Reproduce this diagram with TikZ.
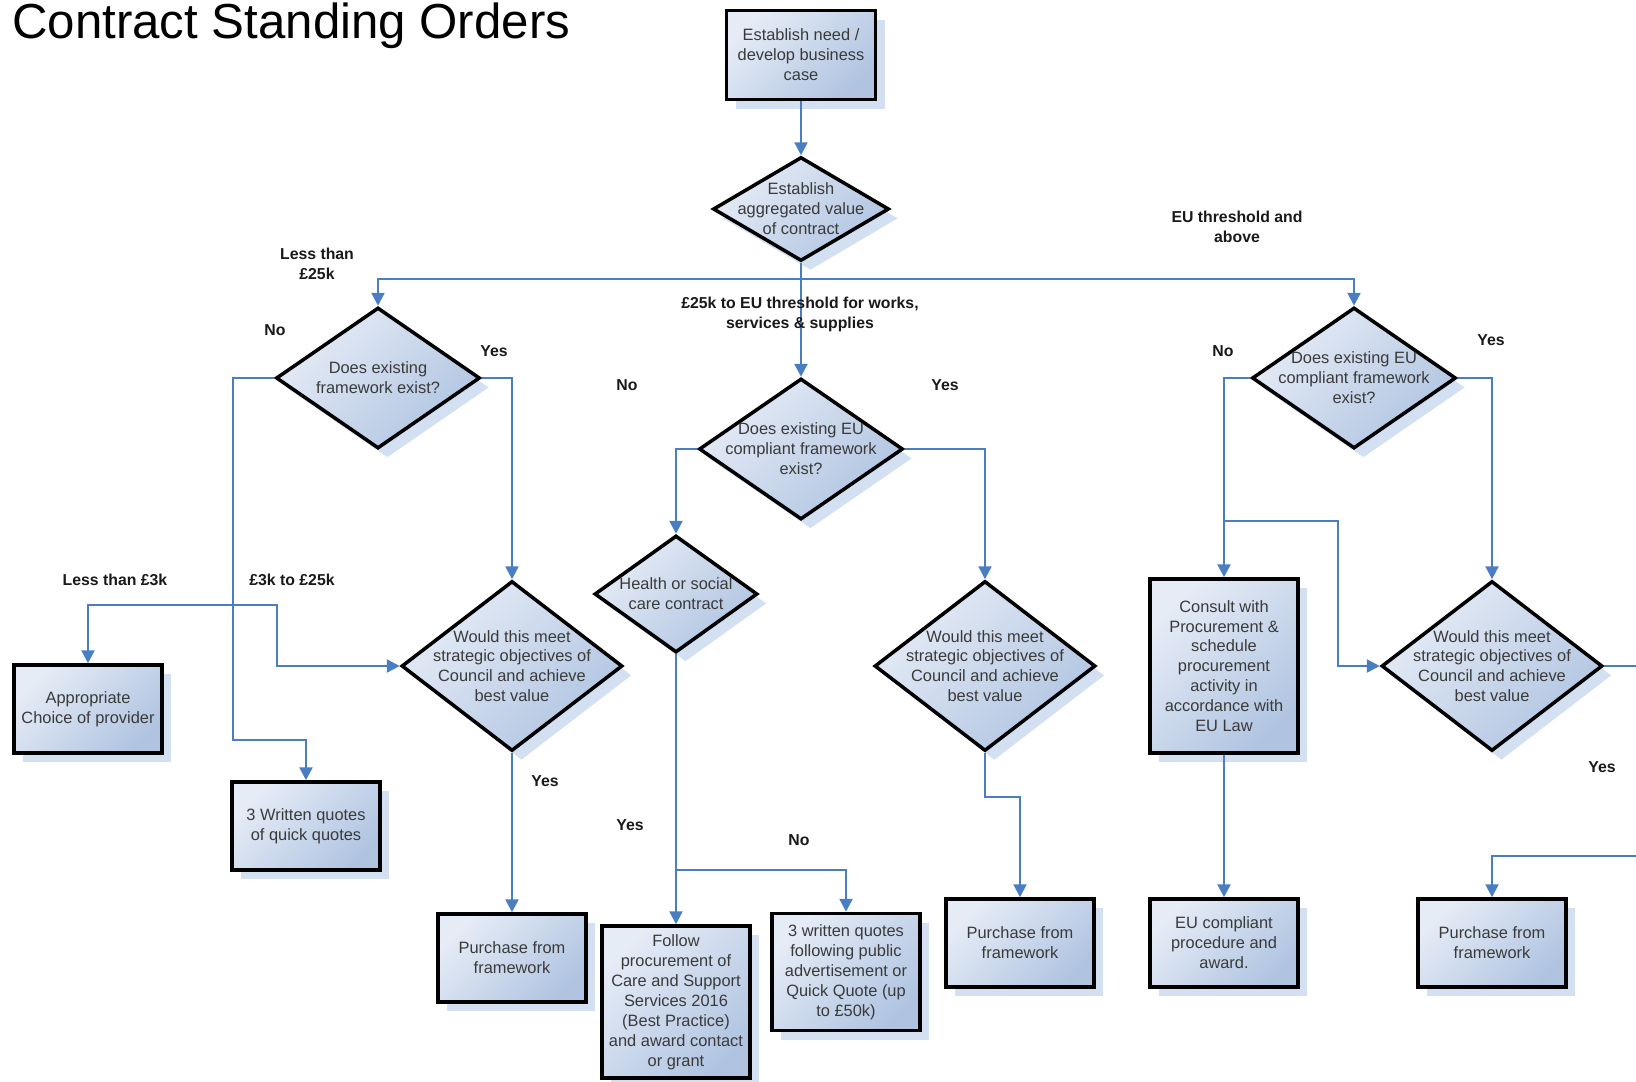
\documentclass[tikz,border=0pt]{standalone}
\usepackage{fontspec}
\setmainfont{Liberation Sans}
\usepackage{xcolor}
\usepackage{tikz}
\usetikzlibrary{shapes.geometric}
\usetikzlibrary{arrows.meta}
\usetikzlibrary{shadows}

\definecolor{flowblue}{HTML}{4A7EC2}
\definecolor{boxlight}{HTML}{E6ECF6}
\definecolor{boxdark}{HTML}{B0C4E1}
\definecolor{shadowblue}{HTML}{D3E0F1}
\definecolor{boxtext}{HTML}{3A3A3A}

\newlength{\pxu}
\setlength{\pxu}{0.03cm}

\begin{document}
\begin{tikzpicture}[x=0.03cm, y=-0.03cm, >={Triangle[length=11pt, width=11pt]},
  shapebase/.style={draw=black, line width=3pt, top color=boxlight, bottom color=boxdark,
    shading angle=45, drop shadow={shadow xshift=8pt, shadow yshift=-8pt, fill=shadowblue, opacity=1},
    font=\fontsize{14}{17}\selectfont, text=boxtext, align=center, inner sep=0pt},
  process/.style={shapebase, rectangle, minimum width=148\pxu, minimum height=88\pxu},
  decision/.style={shapebase, diamond, minimum width=204\pxu, minimum height=141\pxu},
  valuecheck/.style={decision, minimum width=221\pxu, minimum height=170\pxu},
  dtext/.style={font=\fontsize{14}{17}\selectfont, text=boxtext, align=center, inner sep=0pt},
  tag/.style={font=\bfseries\fontsize{13.5}{17}\selectfont, text=black!90, align=center, inner sep=0pt},
  conn/.style={->, draw=flowblue, line width=2pt}]

  % ===== Page frame =====
  \useasboundingbox (0,0) rectangle (1636,1081);
  \clip (0,0) rectangle (1636,1081);

  % Title
  \node[anchor=base west, font=\fontsize{42}{50}\selectfont, inner sep=0pt] (title) at (12,38) {Contract Standing Orders};

  % ===== Top of the flow =====
  \node[process, minimum width=149\pxu, minimum height=89\pxu] (need) at (801,55) {Establish need /\\develop business\\case};
  \node[decision, minimum width=176\pxu, minimum height=104\pxu,
    label={[dtext]center:Establish\\aggregated value\\of contract}] (agg) at (801,209) {};

  % Framework checks
  \node[decision, label={[dtext]center:Does existing\\framework exist?}] (fw1) at (378,378) {};
  \node[decision, label={[dtext]center:Does existing EU\\compliant framework\\exist?}] (fw2) at (801,449) {};
  \node[decision, label={[dtext]center:Does existing EU\\compliant framework\\exist?}] (fw3) at (1354,378) {};

  \node[decision, minimum width=163\pxu, minimum height=117\pxu,
    label={[dtext]center:Health or social\\care contract}] (health) at (676,594) {};

  % Best value checks
  \node[valuecheck, label={[dtext]center:Would this meet\\strategic objectives of\\Council and achieve\\best value}] (valA) at (512,666) {};
  \node[valuecheck, label={[dtext]center:Would this meet\\strategic objectives of\\Council and achieve\\best value}] (valB) at (985,666) {};
  \node[valuecheck, label={[dtext]center:Would this meet\\strategic objectives of\\Council and achieve\\best value}] (valC) at (1492,666) {};

  % ===== Outcomes =====
  \node[process] (prov) at (88,709) {Appropriate\\Choice of provider};
  \node[process] (q3) at (306,826) {3 Written quotes\\of quick quotes};
  \node[process] (purA) at (512,958) {Purchase from\\framework};
  \node[process, minimum height=152\pxu] (follow) at (676,1002) {Follow\\procurement of\\Care and Support\\Services 2016\\(Best Practice)\\and award contact\\or grant};
  \node[process, minimum height=117\pxu] (quote50) at (846,972) {3 written quotes\\following public\\advertisement or\\Quick Quote (up\\to £50k)};
  \node[process] (purB) at (1020,943) {Purchase from\\framework};
  \node[process, minimum height=174\pxu] (consult) at (1224,666) {Consult with\\Procurement \&\\schedule\\procurement\\activity in\\accordance with\\EU Law};
  \node[process] (eu) at (1224,943) {EU compliant\\procedure and\\award.};
  \node[process] (purC) at (1492,943) {Purchase from\\framework};

  % ===== Connectors =====
  \coordinate (split) at (801,279);
  \coordinate (split3k) at (233,605);
  \coordinate (hsplit) at (676,870);
  \coordinate (csplit) at (1224,521);

  \draw[conn] (need) -- (agg);
  \draw[conn] (agg.south) -- (fw2.north);
  \draw[conn] (split) -| (fw1.north);
  \draw[conn] (split) -| (fw3.north);

  % left branch
  \draw[conn] (fw1.west) -| (233,740) -| (q3.north);
  \draw[conn] (fw1.east) -| (valA.north);
  \draw[conn] (split3k) -| (prov.north);
  \draw[conn] (split3k) -- (277,605) |- (valA.west);
  \draw[conn] (valA.south) -- (purA.north);

  % middle branch
  \draw[conn] (fw2.west) -| (health.north);
  \draw[conn] (fw2.east) -| (valB.north);
  \draw[conn] (health.south) -- (follow.north);
  \draw[conn] (hsplit) -| (quote50.north);
  \draw[conn] (valB.south) -- ++(0,44) -| (purB.north);

  % right branch
  \draw[conn] (fw3.west) -| (consult.north);
  \draw[conn] (csplit) -- (1338,521) |- (valC.west);
  \draw[conn] (fw3.east) -| (valC.north);
  \draw[conn] (consult.south) -- (eu.north);
  \draw[conn] (valC.east) -- (1660,666) -- (1660,856) -| (purC.north);

  % ===== Branch labels =====
  \node[tag] (t25) at (317,264) {Less than\\£25k};
  \node[tag] (tEU) at (1237,227) {EU threshold and\\above};
  \node[tag] (tmid) at (800,314) {£25k to EU threshold for works,\\services \& supplies};
  \node[tag] (no1) at (275,330) {No};
  \node[tag] (yes1) at (494,351) {Yes};
  \node[tag] (no2) at (627,385) {No};
  \node[tag] (yes2) at (945,385) {Yes};
  \node[tag] (no3) at (1223,351) {No};
  \node[tag] (yes3) at (1491,340) {Yes};
  \node[tag] (t3k) at (115,580) {Less than £3k};
  \node[tag] (t3to25) at (292,580) {£3k to £25k};
  \node[tag] (yes4) at (545,781) {Yes};
  \node[tag] (yes5) at (630,825) {Yes};
  \node[tag] (no5) at (799,840) {No};
  \node[tag] (yes6) at (1602,767) {Yes};
\end{tikzpicture}
\end{document}
